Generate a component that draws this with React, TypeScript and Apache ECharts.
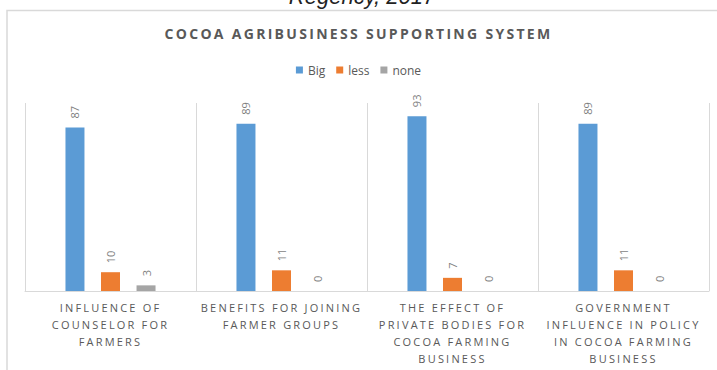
import React, { useEffect, useRef } from "react";
import * as echarts from "echarts";

const TITLE = "COCOA AGRIBUSINESS SUPPORTING SYSTEM";
const TOP_CAPTION = "Regency, 2017";
const categories = [
  "INFLUENCE OF\nCOUNSELOR FOR\nFARMERS",
  "BENEFITS FOR JOINING\nFARMER GROUPS",
  "THE EFFECT OF\nPRIVATE BODIES FOR\nCOCOA FARMING\nBUSINESS",
  "GOVERNMENT\nINFLUENCE IN POLICY\nIN COCOA FARMING\nBUSINESS",
];
const seriesNames = ["Big", "less", "none"];
const bigValues = [87, 89, 93, 89];
const lessValues = [10, 11, 7, 11];
const noneValues = [3, 0, 0, 0];
const colors = ["#5B9BD5", "#ED7D31", "#A5A5A5"];

const FONT = "'Open Sans', 'Noto Sans', sans-serif";

function applySpacing(dom: HTMLElement) {
  const catLines = new Set<string>();
  categories.forEach((c) => c.split("\n").forEach((l) => catLines.add(l)));
  dom.querySelectorAll("text").forEach((t) => {
    const s = (t.textContent || "").trim();
    if (s === TITLE) t.setAttribute("letter-spacing", "2.3");
    else if (catLines.has(s)) t.setAttribute("letter-spacing", "2.2");
  });
}

export default function App() {
  const ref = useRef<HTMLDivElement>(null);
  useEffect(() => {
    if (!ref.current) return;
    const chart = echarts.init(ref.current, undefined, { renderer: "svg" });
    const label = {
      show: true,
      position: "top" as const,
      rotate: 90,
      align: "left" as const,
      verticalAlign: "middle" as const,
      distance: 9,
      color: "#7F7F7F",
      fontSize: 11,
      fontFamily: FONT,
    };
    const data = [bigValues, lessValues, noneValues];
    chart.setOption({
      animation: false,
      backgroundColor: "#ffffff",
      title: {
        text: TITLE,
        left: "center",
        top: 21,
        textStyle: {
          fontFamily: FONT,
          fontSize: 14,
          fontWeight: "bold",
          color: "#595959",
        },
      },
      legend: {
        data: seriesNames,
        top: 59,
        left: "center",
        icon: "rect",
        itemWidth: 7,
        itemHeight: 7,
        itemGap: 11,
        textStyle: { fontFamily: FONT, fontSize: 12, color: "#595959" },
      },
      graphic: [
        {
          type: "rect",
          z: -10,
          shape: { x: 7, y: 10.5, width: 730, height: 380 },
          style: { fill: "none", stroke: "#D9D9D9", lineWidth: 1.5 },
        },
        {
          type: "text",
          x: 362,
          y: 7,
          style: {
            text: TOP_CAPTION,
            font: "italic 22px 'Liberation Sans', Arial, sans-serif",
            fill: "#222222",
            align: "center",
            verticalAlign: "bottom",
          },
        },
      ],
      grid: { left: 25, right: 8, top: 103, bottom: 79 },
      xAxis: {
        type: "category",
        data: categories,
        axisLine: { show: true, lineStyle: { color: "#D9D9D9", width: 1 } },
        axisTick: { show: false },
        splitLine: { show: true, lineStyle: { color: "#D9D9D9", width: 1 } },
        axisLabel: {
          interval: 0,
          margin: 8,
          fontFamily: FONT,
          fontSize: 11,
          lineHeight: 17,
          color: "#595959",
        },
      },
      yAxis: {
        type: "value",
        min: 0,
        max: 100,
        show: false,
        splitLine: { show: false },
      },
      series: seriesNames.map((name, i) => ({
        name,
        type: "bar",
        data: data[i],
        barWidth: 19,
        barGap: "87%",
        itemStyle: { color: colors[i] },
        label,
      })),
    });
    const dom = ref.current;
    applySpacing(dom);
    chart.on("finished", () => applySpacing(dom));
    const raf = requestAnimationFrame(() => applySpacing(dom));
    const to = setTimeout(() => applySpacing(dom), 50);
    return () => {
      cancelAnimationFrame(raf);
      clearTimeout(to);
      chart.dispose();
    };
  }, []);
  return (
    <div
      ref={ref}
      style={{ position: "fixed", left: 0, top: 0, width: 717, height: 370 }}
    />
  );
}
